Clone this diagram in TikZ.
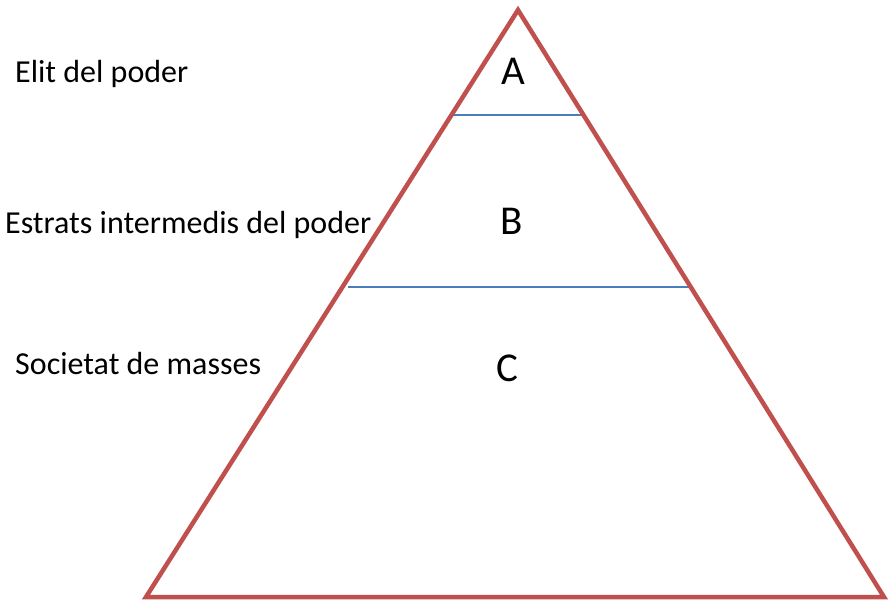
\documentclass[tikz,border=0pt]{standalone}
\usepackage{fontspec}
\setmainfont{Carlito}
\definecolor{pyrred}{HTML}{C0504D}
\definecolor{pyrblue}{HTML}{4A7EBB}
\begin{document}
\begin{tikzpicture}[x=1pt,y=-1pt,
  lbl/.style={anchor=base west,inner sep=0pt,font=\fontsize{32}{38}\selectfont},
  letter/.style={anchor=base,inner sep=0pt,font=\fontsize{41}{49}\selectfont},
  edge/.style={draw=pyrred,line width=4.5pt,line join=miter},
  divider/.style={draw=pyrblue,line width=2.2pt}]
\useasboundingbox (0,0) rectangle (889,603);
\coordinate (top) at (518,10);
\coordinate (bl) at (146,597);
\coordinate (br) at (884,597);
\coordinate (a1) at (452,115);
\coordinate (a2) at (585,115);
\coordinate (b1) at (348,287);
\coordinate (b2) at (690,287);
\draw[divider] (a1) -- (a2);
\draw[divider] (b1) -- (b2);
\draw[edge] (top) -- (bl) -- (br) -- cycle;
\node[letter] (A) at (513,84) {A};
\node[letter] (B) at (512,234) {B};
\node[letter] (C) at (507,381) {C};
\node[lbl] (l1) at (15,82) {Elit del poder};
\node[lbl] (l2) at (5,233) {Estrats intermedis del poder};
\node[lbl] (l3) at (15,374) {Societat de masses};
\end{tikzpicture}
\end{document}
